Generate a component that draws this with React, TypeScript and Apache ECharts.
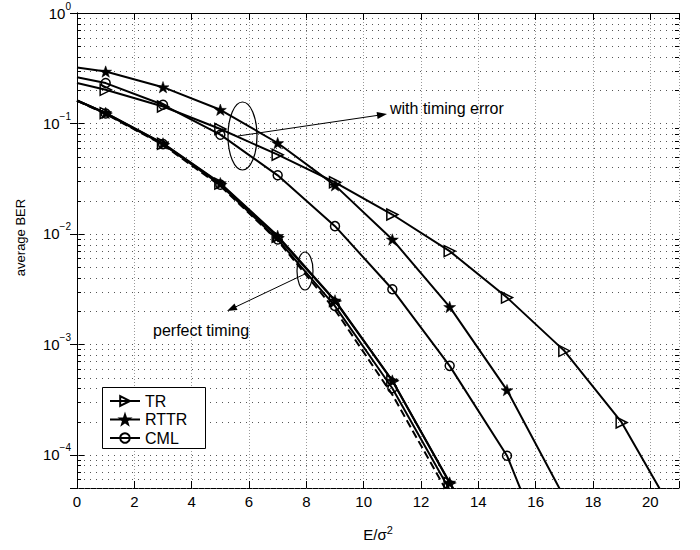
import React, { useEffect, useRef } from 'react';
import * as echarts from 'echarts';

const FONT = "'Liberation Sans', Arial, Helvetica, sans-serif";

// Axis ranges / ticks
const xMin = 0;
const xMax = 21;
const xStep = 2;
const yMin = 5e-5;
const yMax = 1;
const yGridValues = [
  5e-5, 6e-5, 7e-5, 8e-5, 9e-5,
  1e-4, 2e-4, 3e-4, 4e-4, 5e-4, 6e-4, 7e-4, 8e-4, 9e-4,
  1e-3, 2e-3, 3e-3, 4e-3, 5e-3, 6e-3, 7e-3, 8e-3, 9e-3,
  1e-2, 2e-2, 3e-2, 4e-2, 5e-2, 6e-2, 7e-2, 8e-2, 9e-2,
  1e-1, 2e-1, 3e-1, 4e-1, 5e-1, 6e-1, 7e-1, 8e-1, 9e-1,
  1,
];

const legendNames = ['TR', 'RTTR', 'CML'];

// With timing error
const xErrTR = [0, 1, 3, 5, 7, 9, 11, 13, 15, 17, 19, 21];
const berErrTR = [0.232, 0.2015, 0.1425, 0.089, 0.0521, 0.0293, 0.01497, 0.00698, 0.00265, 0.000872, 0.000196, 0.0000244];
const xErrRTTR = [0, 1, 3, 5, 7, 9, 11, 13, 15, 17];
const berErrRTTR = [0.321, 0.295, 0.213, 0.133, 0.0665, 0.0275, 0.0089, 0.00218, 0.000385, 0.000041];
const xErrCML = [0, 1, 3, 5, 7, 9, 11, 13, 15, 17];
const berErrCML = [0.262, 0.232, 0.1476, 0.0791, 0.0339, 0.01175, 0.00315, 0.000638, 0.000098, 0.0000051];

// Perfect timing
const xPerfect = [0, 1, 3, 5, 7, 9, 11, 13, 15];
const berPerfTR = [0.1614, 0.124, 0.0655, 0.0285, 0.0094, 0.00247, 0.000467, 0.0000556, 0.000007];
const berPerfRTTR = [0.1614, 0.1245, 0.066, 0.0288, 0.0096, 0.0025, 0.00047, 0.000056, 0.000007];
const berPerfCML = [0.1614, 0.123, 0.065, 0.0279, 0.0089, 0.00222, 0.0004, 0.000048, 0.000006];
const berPerfDashed = [0.16, 0.122, 0.064, 0.0272, 0.0087, 0.00205, 0.00035, 0.000042, 0.000005];

const STAR = 'path://M0,-10L2.35,-3.24L9.51,-3.09L3.8,1.24L5.88,8.09L0,4L-5.88,8.09L-3.8,1.24L-9.51,-3.09L-2.35,-3.24Z';

const symbolStyles: Record<string, any> = {
  TR: {
    symbol: 'triangle',
    symbolSize: 11,
    symbolRotate: -90,
    itemStyle: { color: 'rgba(0,0,0,0)', borderColor: '#000', borderWidth: 1.5 },
  },
  RTTR: {
    symbol: STAR,
    symbolSize: 12,
    symbolKeepAspect: true,
    itemStyle: { color: '#000', borderColor: '#000', borderWidth: 0.5 },
  },
  CML: {
    symbol: 'circle',
    symbolSize: 9,
    itemStyle: { color: 'rgba(0,0,0,0)', borderColor: '#000', borderWidth: 1.5 },
  },
};

function toData(xs: number[], ys: number[]) {
  return xs.map((x, i) => (x === 0 ? { value: [x, ys[i]], symbol: 'none' } : [x, ys[i]]));
}

function lineSeries(name: string, xs: number[], ys: number[]) {
  return {
    type: 'line',
    name,
    data: toData(xs, ys),
    ...symbolStyles[name],
    showAllSymbol: true,
    lineStyle: { color: '#000', width: 2 },
    clip: true,
    z: 5,
  };
}

function isMajor(v: number) {
  const l = Math.log10(v);
  return Math.abs(l - Math.round(l)) < 1e-9;
}

export default function App() {
  const ref = useRef<HTMLDivElement>(null);

  useEffect(() => {
    if (!ref.current) return;
    const chart = echarts.init(ref.current, null, { renderer: 'svg' });

    const xAxisBase = {
      type: 'value',
      min: xMin,
      max: xMax,
      interval: xStep,
      axisLine: { show: true, lineStyle: { color: '#000', width: 1 } },
      axisTick: { show: true, inside: true, length: 7, lineStyle: { color: '#000' } },
    };
    const yAxisBase = {
      type: 'log',
      logBase: 10,
      min: yMin,
      max: yMax,
      axisLine: { show: true, lineStyle: { color: '#000', width: 1 } },
      axisTick: { show: true, inside: true, length: 7, lineStyle: { color: '#000' } },
      splitLine: { show: false },
    };

    const option: any = {
      animation: false,
      backgroundColor: '#fff',
      textStyle: { fontFamily: FONT },
      grid: { left: 77, right: 21, top: 13, bottom: 62, containLabel: false },
      xAxis: [
        {
          ...xAxisBase,
          position: 'bottom',
          name: '{a|E/σ}{s|2}',
          nameLocation: 'middle',
          nameGap: 36,
          nameTextStyle: {
            rich: {
              a: { fontSize: 15, fontFamily: FONT, color: '#000', lineHeight: 20 },
              s: { fontSize: 11, fontFamily: FONT, color: '#000', lineHeight: 7, verticalAlign: 'top' },
            },
          },
          axisLabel: {
            show: true,
            margin: 6,
            fontSize: 15,
            fontFamily: FONT,
            color: '#000',
            formatter: (v: number) => (v % 2 === 0 && v <= 20 ? String(v) : ''),
          },
          splitLine: { show: true, lineStyle: { color: '#999', width: 1, type: [1, 2] } },
        },
        {
          ...xAxisBase,
          position: 'top',
          axisLabel: { show: false },
          splitLine: { show: false },
        },
      ],
      yAxis: [
        {
          ...yAxisBase,
          position: 'left',
          name: 'average BER',
          nameLocation: 'middle',
          nameGap: 50,
          nameTextStyle: { fontSize: 13, fontFamily: FONT, color: '#000', padding: [0, 0, 0, 26] },
          axisLabel: {
            show: true,
            margin: 6,
            fontSize: 15,
            fontFamily: FONT,
            color: '#000',
            formatter: (v: number) => {
              if (!isMajor(v)) return '';
              const e = Math.round(Math.log10(v));
              return '{b|10}{s|' + (e === 0 ? '0' : '\u2212' + -e) + '}';
            },
            rich: {
              b: { fontSize: 15, fontFamily: FONT, color: '#000', lineHeight: 24 },
              s: { fontSize: 10, fontFamily: FONT, color: '#000', lineHeight: 6, verticalAlign: 'top' },
            },
          },
        },
        {
          ...yAxisBase,
          position: 'right',
          axisLabel: { show: false },
        },
      ],
      legend: {
        show: true,
        data: legendNames,
        orient: 'vertical',
        left: 102,
        top: 387,
        z: 10,
        itemWidth: 30,
        itemHeight: 12,
        itemGap: 2.5,
        padding: [6, 15, 4, 7],
        borderWidth: 0,
        selectedMode: false,
        textStyle: { fontSize: 16, lineHeight: 16, fontFamily: FONT, color: '#000' },
      },
      series: [
        {
          type: 'custom',
          name: 'ygrid',
          silent: true,
          clip: false,
          z: 1,
          xAxisIndex: 0,
          yAxisIndex: 0,
          data: yGridValues.map((v) => [xMin, v]),
          renderItem: (_params: any, api: any) => {
            const v = api.value(1);
            const a = api.coord([xMin, v]);
            const b = api.coord([xMax, v]);
            const y = Math.round(a[1]) + 0.5;
            const children: any[] = [];
            if (v < yMax) {
              children.push({
                type: 'line',
                shape: { x1: a[0] + 1, y1: y, x2: b[0] - 1, y2: y },
                style: { stroke: '#555', lineWidth: 1, lineDash: [1, 5] },
              });
            }
            if (!isMajor(v) && v > yMin) {
              children.push({
                type: 'line',
                shape: { x1: a[0], y1: y, x2: a[0] + 4, y2: y },
                style: { stroke: '#000', lineWidth: 1 },
              });
              children.push({
                type: 'line',
                shape: { x1: b[0] - 4, y1: y, x2: b[0], y2: y },
                style: { stroke: '#000', lineWidth: 1 },
              });
            }
            return { type: 'group', children };
          },
        },
        lineSeries('TR', xErrTR, berErrTR),
        lineSeries('RTTR', xErrRTTR, berErrRTTR),
        lineSeries('CML', xErrCML, berErrCML),
        {
          type: 'line',
          name: 'ideal',
          data: toData(xPerfect, berPerfDashed),
          symbol: 'none',
          lineStyle: { color: '#000', width: 2, type: [8, 4] },
          clip: true,
          z: 4,
        },
        lineSeries('TR', xPerfect, berPerfTR),
        lineSeries('RTTR', xPerfect, berPerfRTTR),
        lineSeries('CML', xPerfect, berPerfCML),
      ],
      graphic: [
        {
          type: 'rect',
          z: 8,
          shape: { x: 102.5, y: 387.5, width: 103, height: 61 },
          style: { fill: '#fff', stroke: '#000', lineWidth: 1 },
        },
        {
          type: 'ellipse',
          z: 100,
          shape: { cx: 242.5, cy: 136, rx: 14.5, ry: 34 },
          style: { fill: 'none', stroke: '#000', lineWidth: 1.2 },
        },
        {
          type: 'line',
          z: 100,
          shape: { x1: 238, y1: 136, x2: 380, y2: 115 },
          style: { stroke: '#000', lineWidth: 1 },
        },
        {
          type: 'polygon',
          z: 100,
          shape: { points: [[387, 114], [377.6, 118.9], [376.6, 112.0]] },
          style: { fill: '#000' },
        },
        {
          type: 'text',
          z: 100,
          x: 390,
          y: 108,
          style: { text: 'with timing error', fontSize: 16, fontFamily: FONT, fill: '#000', verticalAlign: 'middle', align: 'left' },
        },
        {
          type: 'ellipse',
          z: 100,
          shape: { cx: 305, cy: 271, rx: 8, ry: 19 },
          style: { fill: 'none', stroke: '#000', lineWidth: 1.2 },
        },
        {
          type: 'line',
          z: 100,
          shape: { x1: 307, y1: 273, x2: 234, y2: 307.7 },
          style: { stroke: '#000', lineWidth: 1 },
        },
        {
          type: 'polygon',
          z: 100,
          shape: { points: [[227, 311], [237.5, 309.9], [234.5, 303.5]] },
          style: { fill: '#000' },
        },
        {
          type: 'text',
          z: 100,
          x: 153,
          y: 330,
          style: { text: 'perfect timing', fontSize: 16, fontFamily: FONT, fill: '#000', verticalAlign: 'middle', align: 'left' },
        },
      ],
    };

    chart.setOption(option);
    return () => {
      chart.dispose();
    };
  }, []);

  return (
    <div
      ref={ref}
      style={{ position: 'absolute', left: 0, top: 0, width: 700, height: 550, background: '#fff' }}
    />
  );
}
